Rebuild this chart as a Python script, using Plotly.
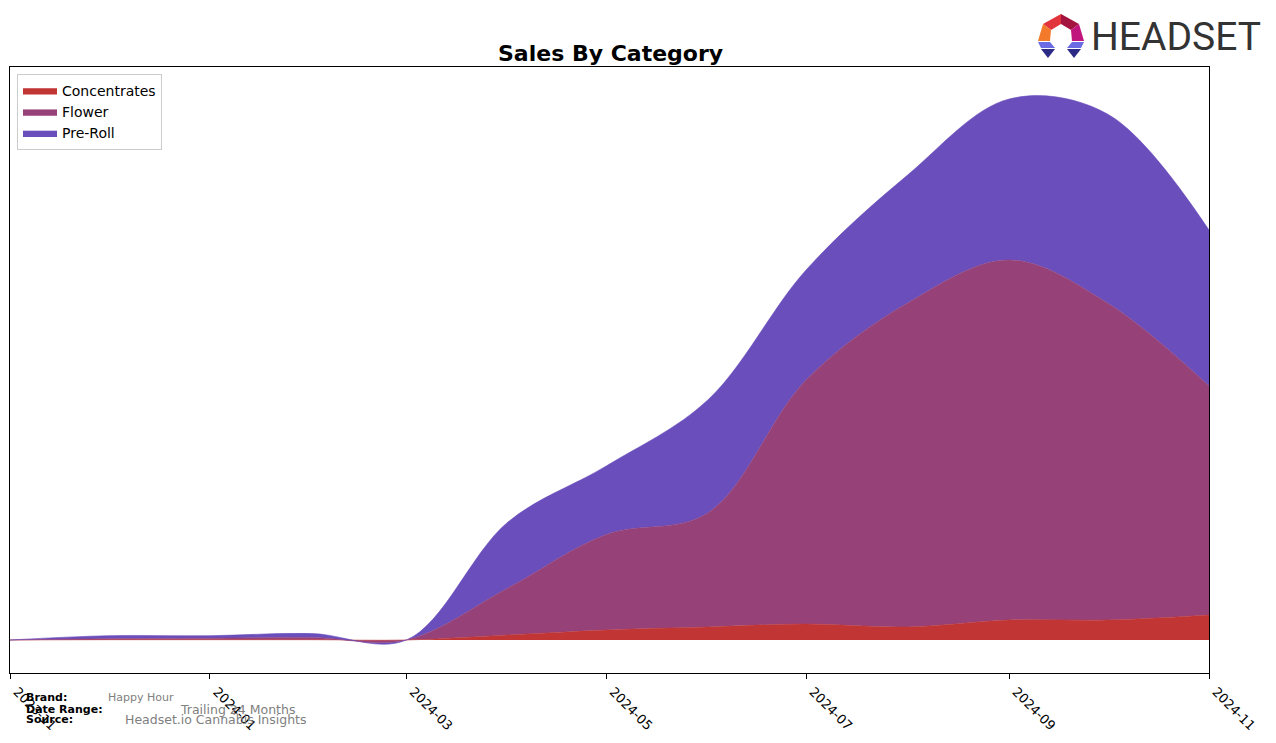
import plotly.graph_objects as go

# ---- data (arbitrary units) ----
months = ["2023-11-01", "2023-12-01", "2024-01-01", "2024-02-01", "2024-03-01",
          "2024-04-01", "2024-05-01", "2024-06-01", "2024-07-01", "2024-08-01",
          "2024-09-01", "2024-10-01", "2024-11-01"]
concentrates = [0, 0.3, 0.3, 0.3, 0, 5, 10, 13, 16, 13, 20, 20, 25]
flower = [0, 1, 1.5, 2.2, 0, 47, 95.5, 114, 244, 324, 360, 317, 229]
pre_roll = [0, 3, 2.5, 4, 0, 66, 68.5, 113, 110, 128, 161, 189, 156]

tick_vals = ["2023-11-01", "2024-01-01", "2024-03-01", "2024-05-01",
             "2024-07-01", "2024-09-01", "2024-11-01"]
tick_text = ["2023-11", "2024-01", "2024-03", "2024-05", "2024-07", "2024-09", "2024-11"]

series_names = ["Concentrates", "Flower", "Pre-Roll"]
series_vals = [concentrates, flower, pre_roll]
series_colors = ["#c13535", "#964178", "#6a4ebc"]

OFF = 8  # default page body margin
FIG_W, FIG_H = 1276 - OFF, 743 - OFF
L, R, T, B = 10, 1209, 67, 673  # plot area in page pixels


def px(x):
    return (x - L) / (R - L)


def py(y):
    return (B - y) / (B - T)


fig = go.Figure()
for name, vals, col in zip(series_names, series_vals, series_colors):
    fig.add_trace(go.Scatter(
        x=months, y=vals, name=name, mode="lines",
        stackgroup="one", line=dict(width=0.6, shape="spline", smoothing=1.0, color=col),
        fillcolor=col,
    ))

font_family = "DejaVu Sans"

fig.update_layout(
    width=FIG_W, height=FIG_H,
    margin=dict(l=L - OFF, r=1276 - R, t=T - OFF, b=743 - B, pad=0),
    paper_bgcolor="white", plot_bgcolor="white",
    font=dict(family=font_family, size=13, color="black"),
    showlegend=True,
    legend=dict(
        x=px(17), y=py(74), xanchor="left", yanchor="top",
        bgcolor="rgba(255,255,255,0.9)", bordercolor="#cccccc", borderwidth=1,
        font=dict(family=font_family, size=14, color="black"),
        traceorder="normal", itemwidth=34, tracegroupgap=0,
    ),
    xaxis=dict(
        type="date", range=["2023-11-01", "2024-11-01"],
        tickvals=tick_vals, ticktext=tick_text, tickangle=45,
        ticks="outside", ticklen=5, tickcolor="black", tickwidth=1,
        ticklabeloverflow="allow", ticklabelshift=7,
        showline=True, linecolor="black", linewidth=1, mirror=True,
        showgrid=False, zeroline=False, automargin=False,
        tickfont=dict(family=font_family, size=13, color="black"),
    ),
    yaxis=dict(
        range=[-33, 573], showticklabels=False, ticks="",
        showline=True, linecolor="black", linewidth=1, mirror=True,
        showgrid=False, zeroline=False, automargin=False,
    ),
)

# title
fig.add_annotation(
    x=px(610), y=py(53), xref="paper", yref="paper", xanchor="center", yanchor="middle",
    text="<b>Sales By Category</b>", showarrow=False,
    font=dict(family=font_family, size=22, color="black"),
)

# bottom-left info text
info = [
    ("Brand:", "Happy Hour", 697, 106, 11),
    ("Date Range:", "Trailing 24 Months", 709, 178, 12.5),
    ("Source:", "Headset.io Cannabis Insights", 719, 123, 12.5),
]
for label, value, yy, vx, vs in info:
    fig.add_annotation(
        x=px(24), y=py(yy), xref="paper", yref="paper", xanchor="left", yanchor="middle",
        text="<b>" + label + "</b>", showarrow=False,
        font=dict(family=font_family, size=11, color="black"),
    )
    fig.add_annotation(
        x=px(vx), y=py(yy), xref="paper", yref="paper", xanchor="left", yanchor="middle",
        text=value, showarrow=False,
        font=dict(family=font_family, size=vs, color="#808080"),
    )

# HEADSET logo (icon pieces + wordmark)
def poly(points, color):
    path = "M " + " L ".join(f"{px(a):.5f},{py(b):.5f}" for a, b in points) + " Z"
    fig.add_shape(type="path", path=path, xref="paper", yref="paper",
                  fillcolor=color, line=dict(width=0), layer="above")


poly([(1043, 24), (1061, 14), (1061, 24), (1051, 30)], "#e2343c")
poly([(1061, 14), (1079, 24), (1071, 30), (1061, 24)], "#a3153f")
poly([(1043, 24), (1051, 30), (1050, 41), (1038, 41)], "#f27a2a")
poly([(1079, 24), (1084, 41), (1072, 41), (1071, 30)], "#c0157c")
poly([(1038, 42), (1050, 42), (1055, 48), (1041, 48)], "#6b6be3")
poly([(1072, 42), (1084, 42), (1081, 48), (1067, 48)], "#6b6be3")
poly([(1041, 49), (1055, 49), (1048, 58)], "#2b2b85")
poly([(1067, 49), (1081, 49), (1074, 58)], "#2b2b85")

fig.add_annotation(
    x=px(1089), y=py(37), xref="paper", yref="paper", xanchor="left", yanchor="middle",
    text="HEADSET", showarrow=False,
    font=dict(family="Roboto, sans-serif", size=39, color="#333333"),
)

fig.write_html("out.html")
